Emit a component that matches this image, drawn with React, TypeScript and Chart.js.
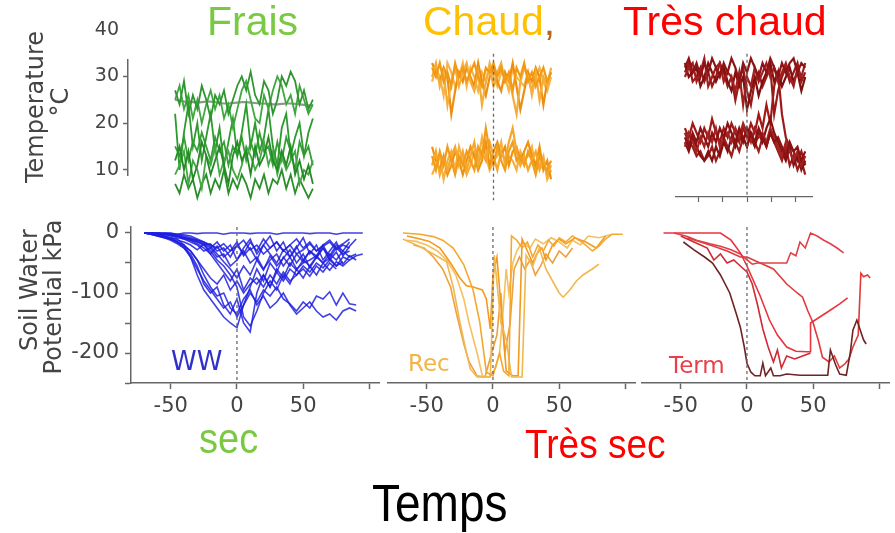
import React, { useEffect, useRef } from "react";
import { Chart, registerables } from "chart.js";
Chart.register(...registerables);

const SANS = "'Liberation Sans', Arial, sans-serif";
const DJ = "'DejaVu Sans', sans-serif";

// ---------- tick labels ----------
const tempTicks = [10, 20, 30, 40];
const swpTicks = [0, -100, -200];
const dayTicks = [-50, 0, 50];

// ---------- top row: temperature (°C), days relative to stress ----------
const topDays = [-64, -60, -56, -52, -48, -44, -40, -36, -32, -28, -24, -20, -16, -12, -8, -4, 0, 4, 8, 12, 16, 20, 24, 28, 32, 36, 40, 44, 48, 52, 56, 60];

const frais1 = [27, 24, 29, 22, 26, 23, 28, 25, 21, 26, 24, 27, 22, 25, 28, 30, 27, 31, 26, 24, 29, 27, 22, 25, 30, 28, 31, 29, 24, 27, 23, 25];
const frais2 = [25, 28, 23, 26, 21, 25, 20, 24, 27, 23, 26, 21, 24, 19, 23, 27, 29, 25, 21, 20, 26, 23, 27, 30, 28, 24, 26, 22, 28, 25, 22, 24];
const frais3 = [12, 15, 10, 14, 8, 11, 16, 13, 9, 12, 15, 11, 7, 13, 16, 12, 14, 9, 15, 11, 13, 17, 12, 10, 14, 11, 15, 9, 12, 8, 11, 7];
const frais4 = [9, 11, 14, 7, 12, 10, 6, 13, 11, 15, 9, 12, 14, 10, 8, 11, 15, 13, 10, 12, 16, 11, 14, 9, 13, 10, 12, 14, 7, 10, 9, 12];
const frais5 = [22, 10, 18, 24, 15, 20, 12, 17, 22, 14, 19, 11, 16, 21, 13, 18, 24, 15, 20, 14, 17, 23, 15, 11, 19, 22, 13, 17, 20, 13, 18, 21];
const frais6 = [15, 13, 17, 12, 16, 14, 18, 15, 12, 17, 14, 16, 11, 15, 13, 17, 12, 16, 13, 18, 14, 15, 11, 16, 12, 17, 14, 10, 16, 13, 15, 11];
const frais7 = [7, 5, 9, 6, 8, 4, 7, 9, 5, 8, 6, 10, 5, 8, 6, 9, 7, 4, 8, 6, 9, 5, 8, 7, 10, 6, 9, 5, 8, 6, 4, 6];
const fraisMean = [25, 24.8, 24.6, 24.6, 24.5, 24.4, 24.5, 24.6, 24.6, 24.5, 24.3, 24.2, 24.2, 24.3, 24.4, 24.5, 24.5, 24.4, 24.3, 24.2, 24.2, 24.1, 24, 24, 24.1, 24.2, 24.2, 24.1, 24, 23.9, 23.8, 23.8];

const chaud1 = [32, 30, 33, 29, 31, 28, 33, 30, 32, 29, 31, 33, 30, 28, 32, 31, 33, 30, 32, 29, 31, 27, 32, 30, 33, 29, 31, 28, 30, 32, 29, 31];
const chaud2 = [30, 33, 28, 31, 24, 29, 32, 28, 31, 33, 29, 27, 31, 24, 29, 32, 28, 31, 33, 29, 30, 26, 22, 29, 32, 30, 27, 31, 25, 30, 28, 32];
const chaud3 = [33, 31, 29, 32, 30, 22, 27, 31, 29, 32, 30, 28, 33, 29, 26, 30, 32, 29, 27, 31, 29, 33, 28, 23, 27, 31, 29, 32, 30, 24, 29, 31];
const chaud4 = [29, 32, 30, 26, 33, 31, 28, 30, 33, 28, 32, 30, 27, 31, 29, 33, 30, 28, 31, 30, 27, 32, 30, 29, 28, 31, 26, 30, 32, 29, 27, 30];
const chaud5 = [13, 10, 14, 11, 15, 12, 9, 13, 11, 14, 12, 10, 15, 13, 19, 14, 11, 15, 12, 10, 14, 16, 12, 13, 11, 14, 12, 9, 13, 11, 10, 12];
const chaud6 = [11, 14, 9, 12, 10, 13, 15, 11, 14, 10, 13, 16, 11, 14, 12, 16, 13, 10, 14, 12, 16, 19, 14, 11, 13, 10, 12, 14, 10, 12, 9, 11];
const chaud7 = [15, 12, 10, 13, 9, 11, 14, 12, 9, 12, 15, 13, 10, 12, 16, 11, 14, 16, 13, 15, 11, 14, 15, 12, 14, 16, 13, 11, 15, 10, 12, 8];
const chaud8 = [9, 11, 13, 8, 12, 14, 10, 15, 12, 9, 11, 14, 12, 17, 13, 10, 12, 13, 16, 11, 13, 12, 10, 14, 12, 13, 15, 10, 11, 13, 8, 10];

const tchaud1 = [32, 34, 31, 33, 30, 33, 31, 34, 32, 30, 33, 31, 34, 32, 29, 33, 31, 34, 32, 30, 33, 31, 34, 32, 30, 33, 31, 33, 34, 31, 33, 32];
const tchaud2 = [30, 32, 33, 29, 31, 34, 28, 30, 32, 33, 29, 31, 30, 27, 31, 24, 30, 28, 32, 29, 31, 33, 30, 32, 29, 31, 33, 30, 28, 32, 30, 33];
const tchaud3 = [33, 30, 31, 32, 28, 30, 33, 31, 29, 31, 32, 29, 27, 31, 28, 30, 23, 27, 30, 26, 29, 31, 33, 29, 31, 28, 30, 32, 29, 31, 27, 30];
const tchaud4 = [31, 33, 29, 30, 32, 29, 31, 28, 30, 33, 31, 28, 30, 25, 29, 32, 27, 24, 29, 31, 28, 30, 32, 22, 27, 30, 32, 29, 31, 33, 29, 31];
const tchaud5 = [17, 15, 18, 16, 19, 17, 15, 18, 16, 19, 17, 20, 18, 16, 19, 17, 15, 18, 16, 19, 17, 15, 18, 16, 17, 15, 13, 16, 14, 15, 12, 14];
const tchaud6 = [15, 18, 16, 14, 17, 15, 18, 16, 19, 15, 17, 18, 16, 19, 17, 20, 18, 16, 19, 17, 18, 16, 19, 17, 15, 13, 16, 14, 12, 14, 11, 13];
const tchaud7 = [16, 14, 17, 15, 13, 12, 14, 12, 15, 13, 16, 14, 17, 15, 18, 16, 19, 17, 15, 18, 16, 19, 21, 18, 16, 14, 12, 15, 11, 13, 10, 12];
const tchaud8 = [18, 16, 15, 13, 14, 12, 13, 15, 12, 14, 17, 15, 13, 16, 14, 17, 15, 18, 16, 14, 17, 15, 18, 16, 14, 12, 15, 11, 13, 10, 12, 9];
const tchaud9 = [19, 17, 20, 18, 16, 19, 17, 21, 18, 16, 19, 17, 20, 18, 16, 19, 17, 20, 18, 22, 19, 24, 20, 28, 31, 22, 17, 15, 14, 12, 14, 11];

// ---------- bottom row: soil water potential (kPa) ----------
const wwDays = [-70, -65, -60, -55, -50, -45, -40, -35, -30, -25, -20, -15, -10, -5, 0, 5, 10, 15, 20, 25, 30, 35, 40, 45, 50, 55, 60, 65, 70, 75, 80, 85, 90, 95];
type V = number | null;
const ww1: V[] = [0, 0, -1, 0, 0, -2, 0, 0, -1, 0, 0, 0, -2, 0, 0, 0, -1, 0, 0, 0, -2, 0, 0, 0, 0, -1, 0, 0, 0, -2, 0, 0, 0, 0];
const ww2: V[] = [0, -2, -4, -6, -8, -12, -15, -20, -28, -18, -35, -22, -40, -30, -15, -38, -25, -45, -20, -35, -50, -28, -40, -22, -45, -30, -38, -20, -42, -25, -35, -30, null, null];
const ww3: V[] = [null, 0, -2, -5, -8, -10, -20, -40, -70, -95, -110, -125, -140, -150, -158, -120, -90, -60, -80, -50, -65, -40, -55, -35, -48, -30, -42, -25, -38, -20, -30, -15, null, null];
const ww4: V[] = [0, -1, -3, -5, -10, -15, -25, -35, -55, -85, -100, -90, -120, -135, -110, -150, -165, -100, -70, -90, -60, -75, -50, -62, -45, -55, -40, -50, -35, -45, -30, -40, -35, null];
const ww5: V[] = [0, -2, -5, -8, -12, -18, -25, -40, -60, -80, -95, -110, -125, -115, -140, -120, -100, -115, -95, -105, -90, -110, -118, -130, -115, -125, -105, -110, -98, -120, -100, -118, -120, null];
const ww6: V[] = [null, 0, -3, -6, -10, -15, -20, -30, -45, -70, -90, -105, -100, -125, -135, -110, -95, -120, -105, -125, -115, -100, -120, -135, -125, -115, -130, -140, -135, -145, -130, -125, -130, null];
const ww7: V[] = [0, 0, -1, -2, -4, -6, -10, -15, -20, -30, -25, -40, -35, -55, -45, -30, -50, -40, -60, -45, -35, -55, -40, -60, -50, -45, -38, -50, -42, -55, -40, -45, -38, -35];
const ww8: V[] = [0, -1, -2, -3, -5, -8, -10, -12, -18, -25, -35, -50, -65, -80, -60, -95, -75, -85, -70, -90, -65, -80, -60, -70, -55, -65, -50, -58, -45, -55, -48, null, null, null];
const ww9: V[] = [null, null, 0, -1, -2, -4, -8, -12, -15, -20, -18, -30, -25, -40, -20, -35, -15, -30, -10, -25, -15, -30, -20, -10, -25, -15, -30, -20, -12, -25, -18, -10, null, null];
const ww10: V[] = [0, -2, -5, -8, -10, -15, -22, -30, -45, -60, -75, -85, -70, -95, -80, -100, -85, -75, -90, -70, -85, -65, -80, -70, -60, -72, -55, -65, -50, -60, null, null, null, null];
const ww11: V[] = [null, 0, 0, -1, -3, -5, -8, -10, -12, -15, -20, -25, -18, -30, -22, -12, -28, -20, -35, -25, -15, -30, -20, -35, -28, -18, -30, -22, -15, -28, -20, -25, null, null];
const ww12: V[] = [0, -1, -1, -2, -3, -5, -7, -10, -14, -20, -30, -45, -55, -70, -90, -140, -155, -130, -100, -80, -95, -70, -85, -60, -75, -55, -70, -50, -62, -48, -55, -45, null, null];
const ww13: V[] = [0, 0, 0, -1, -2, -3, -5, -8, -12, -18, -25, -15, -30, -20, -45, -25, -10, -35, -20, -5, -30, -15, -40, -25, -8, -35, -20, -45, -30, -15, -38, -22, -10, null];
const ww14: V[] = [null, null, null, 0, -1, -2, -3, -5, -10, -15, -22, -35, -48, -60, -75, -55, -70, -45, -62, -38, -55, -42, -28, -50, -35, -58, -40, -25, -45, -32, -52, -38, -45, null];

const rec1 = [[-68, 0], [-55, -2], [-45, -6], [-38, -12], [-30, -25], [-22, -53], [-15, -95], [-10, -148], [-5, -232], [0, -238], [5, -200], [8, -230], [12, -238], [14, -5], [18, -12], [22, -25], [26, -15], [30, -40], [34, -20], [38, -30], [42, -12], [46, -22], [50, -8], [55, -15], [60, -5], [65, -12], [70, -20], [75, -30], [80, -22], [85, -10], [90, -2], [98, -2]];
const rec2 = [[-68, -10], [-60, -18], [-55, -23], [-45, -35], [-35, -48], [-30, -90], [-25, -148], [-20, -200], [-17, -227], [-12, -240], [-5, -240], [-2, -240], [1, -37], [6, -150], [10, -177], [14, -240], [18, -240], [22, -240], [25, -37], [30, -55], [35, -25], [40, -60], [45, -80], [50, -100], [53, -107], [58, -95], [63, -80], [68, -70], [75, -60], [80, -52]];
const rec3 = [[-65, -5], [-55, -10], [-48, -14], [-40, -25], [-32, -50], [-25, -75], [-20, -88], [-15, -90], [-8, -95], [-5, -110], [-2, -160], [0, -70], [3, -40], [6, -120], [10, -230], [15, -238], [19, -238], [22, -10], [26, -30], [30, -50], [33, -35], [37, -25], [40, -45], [45, -20], [50, -10], [55, -18], [62, -8], [70, -15], [78, -25], [85, -5]];
const rec4 = [[-65, -12], [-58, -14], [-50, -20], [-42, -30], [-35, -45], [-28, -70], [-22, -110], [-18, -150], [-12, -200], [-8, -238], [-3, -240], [2, -225], [5, -200], [8, -120], [10, -60], [12, -100], [15, -50], [18, -30], [22, -15], [28, -25], [32, -10], [38, -18], [44, -8], [50, -15], [56, -25], [60, -12], [66, -20], [72, -5], [80, -8], [90, -2]];
const rec5 = [[-60, -20], [-52, -25], [-45, -40], [-38, -60], [-32, -90], [-28, -130], [-22, -185], [-18, -215], [-12, -238], [-6, -240], [-1, -200], [3, -170], [6, -100], [9, -200], [13, -150], [16, -60], [20, -40], [24, -60], [28, -45], [32, -70], [36, -55], [40, -35], [45, -50], [50, -30], [55, -40], [60, -25]];

const term1 = [[-48, -15], [-40, -28], [-32, -40], [-26, -50], [-20, -70], [-13, -100], [-8, -135], [-5, -157], [-2, -190], [0, -217], [3, -232], [6, -238], [10, -238], [12, -217], [14, -238], [18, -225], [20, -238], [25, -238], [30, -235], [40, -237], [50, -237], [61, -237], [63, -195], [67, -220], [70, -235], [75, -237], [78, -200], [80, -162], [83, -145], [86, -165], [88, -178], [90, -185]];
const term2 = [[-63, 0], [-50, 0], [-35, 0], [-20, 0], [-12, -12], [-5, -33], [0, -55], [5, -80], [10, -105], [17, -145], [23, -170], [30, -190], [37, -197], [45, -198], [48, -198], [48, -150], [55, -140], [62, -130], [70, -118], [76, -108]];
const term3 = [[-55, 0], [-45, -6], [-38, -12], [-28, -18], [-20, -22], [-12, -28], [-5, -35], [0, -45], [4, -52], [8, -50], [15, -50], [22, -50], [30, -50], [33, -33], [37, -38], [40, -15], [44, -25], [48, 0], [53, -5], [58, -12], [63, -18], [68, -25], [73, -33]];
const term4 = [[-50, -5], [-40, -15], [-30, -25], [-25, -45], [-20, -35], [-15, -50], [-10, -45], [-5, -55], [0, -65], [4, -85], [8, -120], [12, -160], [16, -190], [20, -215], [23, -195], [26, -225], [30, -205], [36, -210], [42, -205], [48, -200]];
const term5 = [[-45, -8], [-35, -15], [-25, -22], [-15, -30], [-5, -40], [0, -40], [10, -50], [20, -60], [30, -85], [38, -100], [42, -107], [46, -130], [50, -150], [54, -180], [57, -207], [62, -215], [66, -205], [70, -225], [74, -218], [77, -210], [80, -190], [84, -170], [86, -67], [88, -73], [91, -70], [93, -75]];

// ---------- helpers ----------
type XY = { x: number; y: number | null };
const onGrid = (days: number[], vals: V[]): XY[] => days.map((d, i) => ({ x: d, y: vals[i] }));
const fromPairs = (pairs: number[][]): XY[] => pairs.map(([x, y]) => ({ x, y }));

function line(data: XY[], color: string, width = 1.5, extra: any = {}) {
  return { data, borderColor: color, borderWidth: width, pointRadius: 0, pointHoverRadius: 0, fill: false, tension: 0, clip: false, spanGaps: false, ...extra };
}
const zeroMarker = (yTop: number, yBottom: number) =>
  line([{ x: 0, y: yTop }, { x: 0, y: yBottom }], "#6a6a6a", 1.3, { borderDash: [3, 3] });

const fixSize = (size: number) => (scale: any) => {
  if (scale.isHorizontal()) scale.height = size;
  else scale.width = size;
  scale.paddingTop = 0;
  scale.paddingBottom = 0;
  scale.paddingLeft = 0;
  scale.paddingRight = 0;
};

const hidden = (min: number, max: number) => ({ type: "linear", display: false, min, max });

const axisGrid = { drawOnChartArea: false, drawTicks: true, tickLength: 6, tickColor: "#666", tickWidth: 1.5 };
const axisBorder = { display: true, color: "#666", width: 1.5 };

const bottomX = () => ({
  type: "linear",
  min: -80,
  max: 108,
  grid: axisGrid,
  border: axisBorder,
  ticks: {
    stepSize: 50,
    includeBounds: false,
    autoSkip: false,
    maxRotation: 0,
    padding: 5,
    color: "#444",
    font: { family: DJ, size: 21 },
    callback: (v: any) => (dayTicks.includes(v) ? String(v) : ""),
  },
  afterFit: fixSize(42),
});

function makeConfig(datasets: any[], scales: any, padding: any = 0): any {
  return {
    type: "line",
    data: { datasets },
    options: {
      responsive: false,
      maintainAspectRatio: false,
      animation: false,
      devicePixelRatio: 1,
      events: [],
      layout: { padding },
      plugins: { legend: { display: false }, tooltip: { enabled: false } },
      scales,
    },
  };
}

// ---------- chart configurations ----------
const greens = ["#2f962f", "#3ea83e", "#248a24", "#44a844", "#2c9a2c", "#36a036", "#2a8e2a"];
const fraisConfig = () =>
  makeConfig(
    [
      ...[frais1, frais2, frais3, frais4, frais5, frais6, frais7].map((s, i) => line(onGrid(topDays, s), greens[i], 1.8)),
      line(onGrid(topDays, fraisMean), "#8a9a8a", 2.2),
    ],
    {
      x: hidden(-106.4, 70),
      y: {
        type: "linear",
        min: 8.9,
        max: 33.5,
        grid: { ...axisGrid, tickLength: 5, tickColor: (c: any) => (c.tick && c.tick.value === 40 ? "rgba(0,0,0,0)" : "#666") },
        border: axisBorder,
        afterBuildTicks: (s: any) => {
          s.ticks = tempTicks.map((v) => ({ value: v }));
        },
        ticks: { autoSkip: false, padding: 4, color: "#444", font: { family: DJ, size: 19 }, callback: (v: any) => String(v) },
        afterFit: fixSize(88),
      },
    },
    { top: 40, bottom: 35, left: 0, right: 0 }
  );

const oranges = ["#f39a14", "#f5ad3a", "#ee8e10", "#f7b548", "#f29c1c", "#f5a82e", "#ef9210", "#f7b040"];
const chaudConfig = () =>
  makeConfig(
    [
      zeroMarker(35, 3.5),
      ...[chaud1, chaud2, chaud3, chaud4, chaud5, chaud6, chaud7, chaud8].map((s, i) => line(onGrid(topDays, s), oranges[i], 2.2)),
    ],
    { x: hidden(-71.4, 71.4), y: hidden(1.4, 35.8) }
  );

const reds = ["#8c1414", "#a21e1e", "#7e1010", "#9a1a1a", "#8a1212", "#a52222", "#841010", "#9c1c1c", "#a01818"];
const tchaudConfig = () =>
  makeConfig(
    [
      zeroMarker(35, 4.19),
      ...[tchaud1, tchaud2, tchaud3, tchaud4, tchaud5, tchaud6, tchaud7, tchaud8, tchaud9].map((s, i) => line(onGrid(topDays, s), reds[i], 2.2)),
    ],
    {
      x: {
        type: "linear",
        min: -74.2,
        max: 68,
        grid: { ...axisGrid, tickLength: 5, tickWidth: 1.2 },
        border: { ...axisBorder, width: 1.2 },
        ticks: { stepSize: 25, includeBounds: false, autoSkip: false, display: false },
        afterFit: fixSize(8),
      },
      y: hidden(4.19, 35.8),
    }
  );

const wwConfig = () =>
  makeConfig(
    [
      zeroMarker(10, -250),
      ...[ww1, ww2, ww3, ww4, ww5, ww6, ww7, ww8, ww9, ww10, ww11, ww12, ww13, ww14].map((s) => line(onGrid(wwDays, s), "rgba(30,30,225,0.85)", 1.6)),
    ],
    {
      x: bottomX(),
      y: {
        type: "linear",
        min: -250,
        max: 10,
        grid: axisGrid,
        border: axisBorder,
        ticks: {
          stepSize: 50,
          includeBounds: false,
          autoSkip: false,
          padding: 6,
          color: "#444",
          font: { family: DJ, size: 21 },
          callback: (v: any) => (swpTicks.includes(v) ? String(v) : ""),
        },
        afterFit: fixSize(91),
      },
    },
    { top: 14, bottom: 0, left: 0, right: 0 }
  );

const recColors = ["#f5a830", "#f0b850", "#f39a1e", "#f5c060", "#eea040"];
const recConfig = () =>
  makeConfig(
    [zeroMarker(10, -250), ...[rec1, rec2, rec3, rec4, rec5].map((s, i) => line(fromPairs(s), recColors[i], 1.6))],
    { x: bottomX(), y: hidden(-250, 10) }
  );

const termColors = ["#6e2424", "#e8343c", "#e0404a", "#d02a34", "#e23a3a"];
const termConfig = () =>
  makeConfig(
    [zeroMarker(10, -250), ...[term1, term2, term3, term4, term5].map((s, i) => line(fromPairs(s), termColors[i], 1.6))],
    { x: bottomX(), y: hidden(-250, 10) }
  );

// ---------- components ----------
function ChartBox({ left, top, width, height, make }: { left: number; top: number; width: number; height: number; make: () => any }) {
  const ref = useRef<HTMLCanvasElement>(null);
  useEffect(() => {
    const chart = new Chart(ref.current as HTMLCanvasElement, make());
    return () => chart.destroy();
  }, []);
  return <canvas ref={ref} width={width} height={height} style={{ position: "absolute", left, top, width, height }} />;
}

function Label({ text, left, baseline, size, color, family = SANS, scaleY = 1 }: any) {
  const top = baseline - 0.846 * size * scaleY;
  return (
    <div
      style={{
        position: "absolute",
        left,
        top,
        fontFamily: family,
        fontSize: size,
        lineHeight: `${size}px`,
        color,
        whiteSpace: "nowrap",
        transform: scaleY !== 1 ? `scaleY(${scaleY})` : undefined,
        transformOrigin: "0 0",
      }}
    >
      {text}
    </div>
  );
}

function VLabel({ text, cx, cy, size, color }: any) {
  return (
    <div
      style={{
        position: "absolute",
        left: cx,
        top: cy,
        transform: "translate(-50%,-50%) rotate(-90deg)",
        fontFamily: DJ,
        fontSize: size,
        lineHeight: `${size}px`,
        color,
        whiteSpace: "nowrap",
      }}
    >
      {text}
    </div>
  );
}

export default function App() {
  return (
    <div style={{ position: "absolute", left: 0, top: 0, width: 895, height: 533, background: "#fff", overflow: "hidden" }}>
      <ChartBox left={40} top={20} width={284} height={190} make={fraisConfig} />
      <ChartBox left={425} top={50} width={137} height={160} make={chaudConfig} />
      <ChartBox left={675} top={50} width={138} height={155} make={tchaudConfig} />
      <ChartBox left={40} top={213} width={340} height={212} make={wwConfig} />
      <ChartBox left={387} top={227} width={249} height={198} make={recConfig} />
      <ChartBox left={641} top={227} width={249} height={198} make={termConfig} />

      <VLabel text="Temperature" cx={34.7} cy={106.5} size={24} color="#444" />
      <VLabel text="°C" cx={59.7} cy={102} size={24} color="#444" />
      <VLabel text="Soil Water" cx={28.7} cy={290} size={24} color="#444" />
      <VLabel text="Potential kPa" cx={52.7} cy={297} size={24} color="#444" />

      <Label text="Frais" left={207} baseline={36} size={41} color="#7ac943" />
      <Label
        text={
          <>
            <span>Chaud</span>
            <span style={{ color: "#b8651e" }}>,</span>
          </>
        }
        left={423}
        baseline={36}
        size={41}
        color="#ffc000"
      />
      <Label text="Très chaud" left={623} baseline={36} size={41} color="#ff0000" />

      <Label text="WW" left={171} baseline={370} size={26} color="#3030cc" family={DJ} />
      <Label text="Rec" left={408} baseline={371} size={23} color="#f2b446" family={DJ} />
      <Label text="Term" left={669} baseline={373} size={23} color="#e8404a" family={DJ} />

      <Label text="sec" left={199} baseline={453} size={38} color="#7ac943" scaleY={1.1} />
      <Label text="Très sec" left={525} baseline={458} size={37} color="#ff0000" scaleY={1.12} />
      <Label text="Temps" left={372} baseline={521} size={46} color="#000" scaleY={1.12} />
    </div>
  );
}
